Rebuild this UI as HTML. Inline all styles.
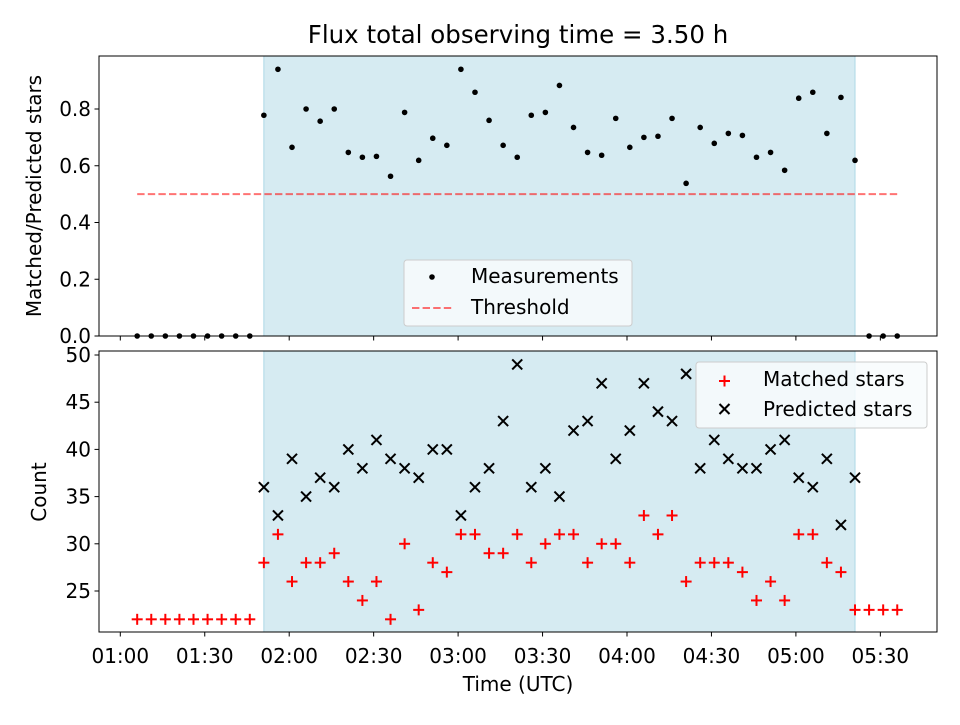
<!DOCTYPE html>
<html><head><meta charset="utf-8"><style>
body{margin:0;background:#fff;}
svg text{font-family:"DejaVu Sans","Liberation Sans",sans-serif;fill:#000;}
</style></head><body>
<svg id="c" width="960" height="720" xmlns="http://www.w3.org/2000/svg"></svg>
<script>
// minutes after 01:00
const preTimes=[6,11,16,21,26,31,36,41,46];
const measTimes=[51,56,61,66,71,76,81,86,91,96,101,106,111,116,121,126,131,136,141,146,151,156,161,166,171,176,181,186,191,196,201,206,211,216,221,226,231,236,241,246,251,256,261];
const postTimes=[266,271,276];
const ratio=[0.778,0.94,0.665,0.80,0.757,0.80,0.647,0.63,0.633,0.563,0.788,0.619,0.697,0.672,0.94,0.859,0.76,0.672,0.63,0.778,0.788,0.883,0.735,0.647,0.637,0.767,0.665,0.70,0.704,0.767,0.538,0.735,0.679,0.714,0.707,0.63,0.647,0.584,0.838,0.859,0.714,0.841,0.619];
const matched=[28,31,26,28,28,29,26,24,26,22,30,23,28,27,31,31,29,29,31,28,30,31,31,28,30,30,28,33,31,33,26,28,28,28,27,24,26,24,31,31,28,27,23];
const predicted=[36,33,39,35,37,36,40,38,41,39,38,37,40,40,33,36,38,43,49,36,38,35,42,43,47,39,42,47,44,43,48,38,41,39,38,38,40,41,37,36,39,32,37];
const preMatched=[22,22,22,22,22,22,22,22,22];
const postMatched=[23,23,23];
const threshold=0.5;
const xTicks=[0,30,60,90,120,150,180,210,240,270];
const xTickLabels=["01:00","01:30","02:00","02:30","03:00","03:30","04:00","04:30","05:00","05:30"];
const topTicks=[0,0.2,0.4,0.6,0.8];
const botTicks=[25,30,35,40,45,50];

const NS="http://www.w3.org/2000/svg";
const svg=document.getElementById('c');
function el(tag,attrs,parent){const e=document.createElementNS(NS,tag);for(const k in attrs)e.setAttribute(k,attrs[k]);(parent||svg).appendChild(e);return e;}
const L=99,R=937;
const T1=56,B1=336,T2=351,B2=632;
const x=t=>120.3+t*2.815;
const y1=v=>B1-v*283.75;
const y2=v=>591-(v-25)*9.44;
const FS=20;

let s=el('rect',{x:x(measTimes[0]),y:T1,width:x(measTimes[measTimes.length-1])-x(measTimes[0]),height:B1-T1,fill:'#add8e6','fill-opacity':0.5,stroke:'#add8e6'});


s=el('rect',{x:x(measTimes[0]),y:T2,width:x(measTimes[measTimes.length-1])-x(measTimes[0]),height:B2-T2,fill:'#add8e6','fill-opacity':0.5,stroke:'#add8e6'});



let th=el('line',{x1:x(preTimes[0]),x2:x(postTimes[postTimes.length-1]),y1:y1(threshold),y2:y1(threshold),stroke:'#ff0000','stroke-opacity':0.55,'stroke-width':2,'stroke-dasharray':'7.4,3.2'});



const topAll=[...preTimes.map(t=>[t,0]),...measTimes.map((t,i)=>[t,ratio[i]]),...postTimes.map(t=>[t,0])];
topAll.forEach(p=>{const c=el('circle',{cx:x(p[0]),cy:y1(p[1]),r:2.8,fill:'#000'});

});

function plus(t,v){const g=el('g',{stroke:'#ff0000','stroke-width':2});const cx=x(t),cy=y2(v);
el('line',{x1:cx-5.5,x2:cx+5.5,y1:cy,y2:cy},g);el('line',{x1:cx,x2:cx,y1:cy-5.5,y2:cy+5.5},g);

}
function cross(t,v){const g=el('g',{stroke:'#000','stroke-width':2});const cx=x(t),cy=y2(v);
el('line',{x1:cx-5,x2:cx+5,y1:cy-5,y2:cy+5},g);el('line',{x1:cx-5,x2:cx+5,y1:cy+5,y2:cy-5},g);

}
preTimes.forEach((t,i)=>plus(t,preMatched[i]));
measTimes.forEach((t,i)=>plus(t,matched[i]));
postTimes.forEach((t,i)=>plus(t,postMatched[i]));
measTimes.forEach((t,i)=>cross(t,predicted[i]));

let f=el('rect',{x:L,y:T1,width:R-L,height:B1-T1,fill:'none',stroke:'#000','stroke-width':1});


f=el('rect',{x:L,y:T2,width:R-L,height:B2-T2,fill:'none',stroke:'#000','stroke-width':1});



xTicks.forEach((t,i)=>{const xx=x(t);
el('line',{x1:xx,x2:xx,y1:B1,y2:B1+4.5,stroke:'#000'});
el('line',{x1:xx,x2:xx,y1:B2,y2:B2+4.5,stroke:'#000'});
const tx=el('text',{x:xx,y:B2+31,'text-anchor':'middle','font-size':FS});tx.textContent=xTickLabels[i];

});
topTicks.forEach(v=>{const yy=y1(v);el('line',{x1:L-4.5,x2:L,y1:yy,y2:yy,stroke:'#000'});
const tx=el('text',{x:L-8,y:yy+7,'text-anchor':'end','font-size':FS});tx.textContent=v.toFixed(1);

});
botTicks.forEach(v=>{const yy=y2(v);el('line',{x1:L-4.5,x2:L,y1:yy,y2:yy,stroke:'#000'});
const tx=el('text',{x:L-8,y:yy+7,'text-anchor':'end','font-size':FS});tx.textContent=v;

});
</script>
<svg width="960" height="720" style="position:absolute;left:0;top:0" xmlns="http://www.w3.org/2000/svg">
<text x="518" y="43" text-anchor="middle" font-size="24.5">Flux total observing time = 3.50 h</text>
<text transform="translate(41,196) rotate(-90)" text-anchor="middle" font-size="20">Matched/Predicted stars</text>
<text transform="translate(46,492) rotate(-90)" text-anchor="middle" font-size="20">Count</text>
<text x="518" y="691" text-anchor="middle" font-size="20">Time (UTC)</text>
<g>
<rect x="404" y="260" width="228" height="66" rx="3" fill="#f8fbfd" fill-opacity="0.85" stroke="#ccc"/>
<circle cx="432" cy="277" r="2.8" fill="#000"/>
<text x="471" y="283" font-size="20">Measurements</text>
<line x1="412" x2="452" y1="308" y2="308" stroke="#ff0000" stroke-opacity="0.55" stroke-width="2" stroke-dasharray="7.4,3.2"/>
<text x="471" y="314" font-size="20">Threshold</text>
</g>
<g>
<rect x="696" y="362" width="231" height="66" rx="3" fill="#f8fbfd" fill-opacity="0.85" stroke="#ccc"/>
<g stroke="#ff0000" stroke-width="2"><line x1="719" x2="730" y1="381" y2="381"/><line x1="724.5" x2="724.5" y1="375.5" y2="386.5"/></g>
<text x="763" y="386" font-size="20">Matched stars</text>
<g stroke="#000" stroke-width="2"><line x1="719.5" x2="729.5" y1="404" y2="414"/><line x1="719.5" x2="729.5" y1="414" y2="404"/></g>
<text x="763" y="416" font-size="20">Predicted stars</text>
</g>
</svg>
</body></html>
